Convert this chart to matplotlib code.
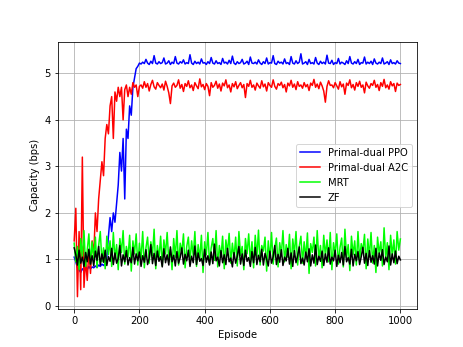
import matplotlib
matplotlib.use("Agg")
import matplotlib.pyplot as plt

# episodes sampled every 5 steps
episodes = list(range(0, 1001, 5))

ppo_start = [1.05, 0.95, 0.82, 0.78, 0.72, 0.80, 0.76, 0.82, 0.78, 0.85,
             0.80, 0.84, 0.82, 0.86, 0.83, 0.88, 0.85, 0.90, 0.87, 0.92,
             1.05, 1.50, 1.90, 1.60, 2.00, 1.80, 2.20, 2.60, 3.30, 2.90,
             3.60, 2.30, 3.80, 3.60, 4.30, 4.10, 4.70, 4.90, 5.10, 5.15,
             5.22]
ppo_rest = [5.20, 5.24, 5.21, 5.30, 5.22, 5.19, 5.26, 5.21, 5.38, 5.22, 5.20, 5.25, 5.21, 5.23, 5.33, 5.20, 5.22, 5.27, 5.19, 5.24,
            5.21, 5.36, 5.22, 5.20, 5.25, 5.22, 5.29, 5.20, 5.23, 5.21, 5.40, 5.22, 5.19, 5.26, 5.21, 5.24, 5.20, 5.31, 5.22, 5.23,
            5.19, 5.25, 5.21, 5.34, 5.22, 5.20, 5.27, 5.21, 5.23, 5.19, 5.32, 5.22, 5.24, 5.20, 5.28, 5.21, 5.37, 5.22, 5.19, 5.25,
            5.21, 5.23, 5.30, 5.20, 5.22, 5.26, 5.19, 5.35, 5.22, 5.21, 5.24, 5.20, 5.29, 5.22, 5.19, 5.25, 5.21, 5.33, 5.20, 5.23,
            5.22, 5.38, 5.21, 5.19, 5.26, 5.22, 5.24, 5.20, 5.31, 5.21, 5.23, 5.19, 5.36, 5.22, 5.20, 5.27, 5.21, 5.24, 5.42, 5.20,
            5.22, 5.25, 5.19, 5.30, 5.21, 5.23, 5.20, 5.34, 5.22, 5.19, 5.26, 5.21, 5.24, 5.20, 5.39, 5.22, 5.21, 5.28, 5.19, 5.23,
            5.21, 5.32, 5.20, 5.24, 5.22, 5.19, 5.27, 5.21, 5.36, 5.22, 5.20, 5.25, 5.21, 5.30, 5.19, 5.23, 5.22, 5.35, 5.20, 5.24,
            5.21, 5.26, 5.19, 5.31, 5.22, 5.20, 5.24, 5.21, 5.33, 5.20, 5.22, 5.25, 5.19, 5.29, 5.21, 5.23, 5.20, 5.27, 5.22, 5.21]
ppo = ppo_start + ppo_rest

a2c_start = [1.40, 2.10, 0.20, 1.60, 0.35, 3.20, 0.40, 1.00, 0.55, 1.20,
             0.70, 1.40, 1.10, 2.00, 1.60, 2.30, 2.70, 3.10, 2.80, 3.60,
             3.90, 3.70, 4.30, 4.50, 3.60, 4.60, 4.40, 4.70, 4.50, 4.70,
             4.00, 4.65, 4.75, 4.50, 4.70, 4.55, 4.80, 4.70, 4.75, 4.50,
             4.72]
a2c_rest = [4.75, 4.68, 4.82, 4.70, 4.78, 4.62, 4.76, 4.85, 4.71, 4.66, 4.80, 4.74, 4.69, 4.77, 4.64, 4.83, 4.72, 4.58, 4.35, 4.73,
            4.79, 4.70, 4.74, 4.86, 4.68, 4.76, 4.61, 4.78, 4.72, 4.84, 4.69, 4.75, 4.63, 4.80, 4.73, 4.67, 4.88, 4.71, 4.76, 4.65,
            4.78, 4.72, 4.52, 4.80, 4.70, 4.74, 4.83, 4.68, 4.77, 4.62, 4.79, 4.73, 4.86, 4.69, 4.75, 4.60, 4.78, 4.71, 4.82, 4.67,
            4.74, 4.80, 4.69, 4.76, 4.48, 4.78, 4.72, 4.85, 4.70, 4.75, 4.64, 4.79, 4.73, 4.68, 4.84, 4.71, 4.77, 4.62, 4.80, 4.74,
            4.70, 4.86, 4.72, 4.66, 4.78, 4.74, 4.81, 4.69, 4.76, 4.60, 4.79, 4.73, 4.85, 4.70, 4.77, 4.65, 4.82, 4.72, 4.75, 4.68,
            4.80, 4.71, 4.76, 4.63, 4.79, 4.74, 4.87, 4.70, 4.77, 4.67, 4.81, 4.73, 4.62, 4.38, 4.72, 4.84, 4.74, 4.75, 4.69, 4.80,
            4.73, 4.66, 4.82, 4.71, 4.77, 4.55, 4.79, 4.74, 4.86, 4.69, 4.76, 4.64, 4.80, 4.72, 4.83, 4.70, 4.75, 4.58, 4.81, 4.73,
            4.68, 4.78, 4.74, 4.85, 4.70, 4.76, 4.63, 4.80, 4.72, 4.87, 4.69, 4.75, 4.66, 4.82, 4.73, 4.78, 4.61, 4.79, 4.74, 4.76]
a2c = a2c_start + a2c_rest

mrt = [1.35, 0.95, 1.28, 0.78, 1.45, 1.05, 1.62, 0.85, 1.20, 1.55, 0.90, 1.38, 1.02, 1.48, 0.82, 1.30, 1.60, 0.95, 1.25, 0.80,
       1.50, 1.10, 1.40, 0.85, 1.58, 1.00, 1.32, 0.78, 1.45, 1.15, 1.62, 0.90, 1.28, 1.05, 1.52, 0.75, 1.40, 1.12, 1.55, 0.88,
       1.35, 1.00, 1.60, 0.82, 1.25, 1.48, 0.92, 1.38, 1.08, 1.65, 0.80, 1.30, 1.02, 1.50, 0.86, 1.42, 1.12, 1.58, 0.95, 1.22,
       0.78, 1.45, 1.05, 1.62, 0.88, 1.35, 1.15, 1.55, 0.82, 1.28, 1.48, 0.96, 1.40, 1.08, 1.60, 0.85, 1.32, 1.00, 1.52, 0.72,
       1.38, 1.10, 1.58, 0.90, 1.25, 1.45, 0.98, 1.62, 0.84, 1.30, 1.05, 1.50, 0.80, 1.42, 1.15, 1.56, 0.92, 1.35, 1.02, 1.48,
       0.86, 1.60, 1.08, 1.28, 0.78, 1.45, 1.12, 1.55, 0.94, 1.38, 0.82, 1.52, 1.05, 1.63, 0.88, 1.30, 1.18, 1.48, 0.75, 1.40,
       1.00, 1.58, 0.90, 1.25, 1.46, 0.84, 1.36, 1.10, 1.62, 0.95, 1.32, 1.05, 1.54, 0.80, 1.44, 1.12, 1.60, 0.88, 1.28, 1.50,
       0.92, 1.38, 1.02, 1.57, 0.70, 1.34, 1.15, 1.48, 0.86, 1.62, 1.00, 1.30, 0.82, 1.52, 1.08, 1.42, 0.95, 1.58, 0.78, 1.36,
       1.12, 1.55, 0.90, 1.26, 1.46, 0.84, 1.65, 1.04, 1.32, 0.76, 1.50, 1.10, 1.40, 0.88, 1.60, 0.98, 1.34, 1.18, 1.54, 0.80,
       1.44, 1.06, 1.58, 0.92, 1.30, 0.72, 1.48, 1.12, 1.38, 0.86, 1.68, 1.02, 1.36, 0.78, 1.52, 1.08, 1.42, 0.90, 1.60, 1.20,
       1.44]

zf = [1.25, 1.10, 0.88, 1.20, 0.92, 1.05, 0.85, 1.15, 0.95, 1.22, 0.90, 1.08, 0.86, 1.18, 0.98, 1.28, 0.88, 1.12, 0.94, 1.20,
      0.87, 1.06, 0.96, 1.24, 0.89, 1.14, 0.92, 1.02, 1.30, 0.86, 1.10, 0.95, 1.19, 0.88, 1.04, 0.93, 1.26, 0.90, 1.12, 0.97,
      1.16, 0.85, 1.08, 0.94, 1.21, 0.89, 1.03, 1.32, 0.91, 1.13, 0.87, 1.18, 0.96, 1.06, 0.84, 1.23, 0.93, 1.10, 0.88, 1.27,
      0.95, 1.09, 0.86, 1.17, 0.92, 1.04, 1.25, 0.90, 1.11, 0.97, 1.20, 0.85, 1.07, 0.93, 1.29, 0.89, 1.14, 0.96, 1.02, 0.87,
      1.22, 0.94, 1.08, 0.88, 1.16, 0.91, 1.33, 0.97, 1.05, 0.86, 1.19, 0.93, 1.10, 0.89, 1.24, 0.95, 1.03, 0.84, 1.15, 0.92,
      1.07, 1.28, 0.90, 1.12, 0.87, 1.20, 0.96, 1.04, 0.85, 1.17, 0.93, 1.26, 0.89, 1.09, 0.95, 1.22, 0.88, 1.13, 1.00, 0.86,
      1.18, 0.92, 1.06, 1.30, 0.89, 1.11, 0.94, 1.21, 0.87, 1.05, 0.97, 1.24, 0.90, 1.14, 0.85, 1.19, 0.93, 1.08, 1.27, 0.91,
      1.03, 0.88, 1.16, 0.95, 1.23, 0.86, 1.10, 0.92, 1.31, 0.89, 1.07, 0.96, 1.18, 0.87, 1.12, 0.94, 1.25, 0.90, 1.05, 0.97,
      1.20, 0.85, 1.09, 0.93, 1.15, 0.88, 1.28, 0.95, 1.04, 0.90, 1.22, 0.86, 1.11, 0.97, 1.17, 0.89, 1.06, 1.26, 0.92, 1.13,
      0.87, 1.19, 0.94, 1.08, 0.90, 1.24, 0.86, 1.14, 0.98, 1.21, 0.89, 1.05, 0.95, 1.29, 0.88, 1.12, 0.93, 1.18, 0.91, 1.07,
      0.99]

fig = plt.figure(figsize=(463 / 72, 347 / 72), dpi=72)
plt.plot(episodes, ppo, color='b', label='Primal-dual PPO')
plt.plot(episodes, a2c, color='r', label='Primal-dual A2C')
plt.plot(episodes, mrt, color='lime', label='MRT')
plt.plot(episodes, zf, color='k', label='ZF')
plt.xlabel('Episode')
plt.ylabel('Capacity (bps)')
plt.grid(True)
plt.legend(loc='center right')
plt.savefig('out.png', dpi=72)
